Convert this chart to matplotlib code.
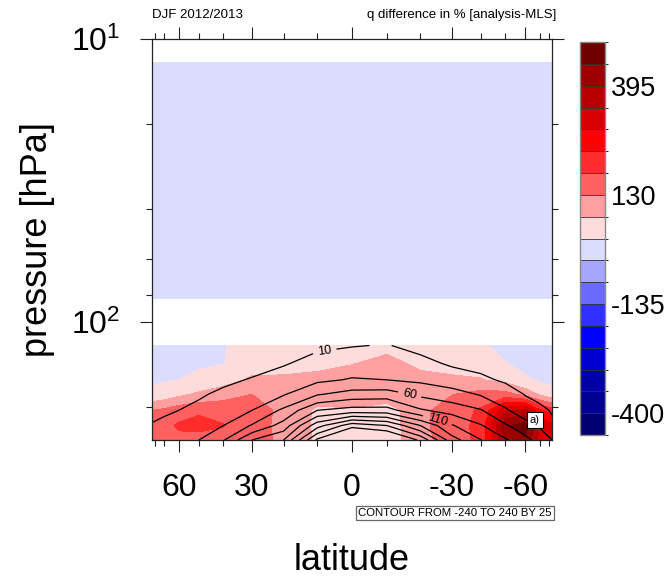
import numpy as np
import matplotlib
matplotlib.use('Agg')
import matplotlib.pyplot as plt
import matplotlib.ticker as tck
from matplotlib.colors import ListedColormap, BoundaryNorm
from matplotlib.cm import ScalarMappable

plt.rcParams['font.family'] = ['Liberation Sans', 'DejaVu Sans']
plt.rcParams['mathtext.fontset'] = 'custom'
plt.rcParams['mathtext.rm'] = 'Liberation Sans'
plt.rcParams['mathtext.it'] = 'Liberation Sans:italic'
plt.rcParams['mathtext.bf'] = 'Liberation Sans:bold'


# data
######################################################################
lats = [90, 70, 60, 50, 40, 30, 20, 10, 0, -10, -20, -30, -40, -50, -60, -70, -90]
plev = [10, 12.1, 20, 31.6, 50, 82.5, 100, 121, 140, 160, 180, 205, 232, 261]
nan = np.nan

# q difference in % (shaded)
q_010 = [nan] * 17
q_012 = [4, 4, 5, 5, 5, 4, 4, 5, 5, 5, 4, 4, 5, 5, 4, 4, 4]
q_020 = [3, 3, 4, 4, 3, 3, 4, 4, 4, 4, 3, 3, 4, 4, 3, 3, 3]
q_032 = [2, 3, 3, 3, 3, 2, 3, 3, 3, 3, 3, 2, 3, 3, 3, 2, 2]
q_050 = [2, 2, 3, 3, 2, 2, 3, 3, 4, 3, 2, 2, 3, 3, 2, 2, 2]
q_082 = [3, 3, 4, 4, 3, 3, 4, 5, 6, 5, 4, 3, 4, 4, 3, 3, 3]
q_100 = [nan] * 17
q_121 = [5, 5, 5, 8, 22, 40, 45, 50, 60, 65, 50, 45, 30, 10, 5, 5, 5]
q_140 = [10, 10, 12, 15, 22, 55, 60, 65, 75, 90, 68, 60, 55, 26, 12, 8, 6]
q_160 = [18, 20, 24, 40, 55, 85, 85, 90, 100, 110, 90, 85, 80, 60, 30, 18, 12]
q_180 = [36, 45, 65, 85, 105, 130, 110, 100, 110, 110, 110, 128, 150, 150, 110, 70, 40]
q_205 = [130, 140, 160, 175, 170, 160, 115, 69, 70, 50, 115, 160, 190, 330, 360, 240, 210]
q_232 = [155, 165, 190, 200, 185, 160, 110, 69, 60, 50, 115, 165, 195, 440, 470, 330, 300]
q_261 = [160, 160, 170, 160, 165, 150, 120, 69, 55, 50, 110, 160, 195, 400, 440, 320, 320]

# contoured field (black lines)
c_010 = [nan] * 17
c_012 = [0, 0, 0, 0, 0, 0, 0, 0, 0, 0, 0, 0, 0, 0, 0, 0, 0]
c_020 = [0, 0, 0, 0, 0, 0, 0, 0, 0, 0, 0, 0, 0, 0, 0, 0, 0]
c_032 = [0, 0, 0, 0, 0, 0, 0, 0, 0, 0, 0, 0, 0, 0, 0, 0, 0]
c_050 = [0, 0, 0, 0, 0, 0, 0, 0, 0, 0, 0, 0, 0, 0, 0, 0, 0]
c_082 = [0, 0, 0, 0, 0, 0, 0, 0, 0, 0, 0, 0, 0, 0, 0, 0, 0]
c_100 = [nan] * 17
c_121 = [-5, -5, -4, -3, -2, 0, 2, 6, 9, 11, 4, 1, -1, -3, -4, -5, -5]
c_140 = [-3, -2, -1, 0, 2, 5, 8, 18, 22, 22, 16, 7, 4, 1, -1, -2, -3]
c_160 = [0, 1, 3, 4, 7, 11, 21, 30, 37, 35, 30, 22, 14, 7, 4, 2, 0]
c_180 = [3, 4, 6, 8, 13, 20, 33, 58, 70, 72, 55, 45, 33, 21, 9, 6, 3]
c_205 = [6, 8, 10, 14, 22, 35, 65, 110, 120, 120, 88, 75, 62, 38, 22, 13, 7]
c_232 = [11, 13, 18, 24, 35, 62, 95, 175, 225, 210, 160, 112, 87, 63, 44, 32, 17]
c_261 = [20, 22, 28, 35, 58, 110, 135, 240, 300, 280, 230, 145, 111, 88, 68, 48, 35]

fill_levels = [-400, -347, -294, -241, -188, -135, -82, -29, 24, 77,
               130, 183, 236, 289, 342, 395, 448]
fill_colors = ['#000070', '#000090', '#0000a8', '#0000d0', '#0000ff', '#3030ff',
               '#6a6aff', '#a6a6ff', '#dcdcff', '#ffdcdc', '#ffa0a0', '#ff6060',
               '#ff2c2c', '#ff0000', '#d80000', '#b80000', '#9c0000', '#6e0000']
line_levels = list(range(-240, 241, 25))
labelled_levels = [10, 60, 110]
cbar_ticks = [-400, -135, 130, 395]
xticks = [60, 30, 0, -30, -60]
xticklabels = ['60', '30', '0', '-30', '-60']
######################################################################

qdiff = np.ma.masked_invalid(np.array([q_010, q_012, q_020, q_032, q_050, q_082, q_100,
                                       q_121, q_140, q_160, q_180, q_205, q_232, q_261]))
qline = np.ma.masked_invalid(np.array([c_010, c_012, c_020, c_032, c_050, c_082, c_100,
                                       c_121, c_140, c_160, c_180, c_205, c_232, c_261]))


# figure and axes set-up
######################################################################
fig = plt.figure(figsize=(6.69, 5.79), dpi=100)
ax = fig.add_axes([152/669, 1 - 440/579, 400/669, 401/579])


def fwd(x):
    return np.sin(np.deg2rad(x))


def inv(s):
    return np.rad2deg(np.arcsin(np.clip(s, -1, 1)))


# latitude axis is spaced like sin(lat)
ax.set_xscale('function', functions=(fwd, inv))
ax.set_yscale('log')
ax.set_xlim(90, -90)
ax.set_ylim(261, 10)

ax.contourf(lats, plev, qdiff, levels=fill_levels, colors=fill_colors, extend='both')
plain_levels = [lv for lv in line_levels if lv not in labelled_levels]
ax.contour(lats, plev, qline, levels=plain_levels, colors='black',
           linewidths=0.9, linestyles='solid')
cs = ax.contour(lats, plev, qline, levels=labelled_levels, colors='black',
                linewidths=0.9, linestyles='solid')
ax.clabel(cs, inline=True, fontsize=9, fmt='%d',
          manual=[(8, 123), (-16.6, 184), (-24.8, 231)])
######################################################################


# ticks
######################################################################
ax.set_xticks(xticks)
ax.set_xticklabels(xticklabels)
ax.xaxis.set_minor_locator(tck.FixedLocator([80, 70, 50, 40, 20, 10, -10, -20, -40, -50, -70, -80]))
ax.xaxis.set_minor_formatter(tck.NullFormatter())

ax.yaxis.set_major_locator(tck.FixedLocator([10, 100]))
ax.yaxis.set_major_formatter(tck.FixedFormatter([r'$\mathregular{10^1}$', r'$\mathregular{10^2}$']))
ax.yaxis.set_minor_locator(tck.FixedLocator([20, 40, 60, 80, 200]))
ax.yaxis.set_minor_formatter(tck.NullFormatter())

ax.tick_params(which='both', direction='out', top=True, right=True, width=0.8, color='#222222')
ax.tick_params(which='major', length=8.6)
ax.tick_params(which='minor', length=4.3)
ax.tick_params(axis='x', which='major', labelsize=23, pad=15)
ax.tick_params(axis='y', which='major', labelsize=23, pad=14)
for sp in ax.spines.values():
    sp.set_linewidth(0.9)
    sp.set_color('#222222')
######################################################################


# labels and annotations
######################################################################
fig.text(38/669, 1 - 239/579, 'pressure [hPa]', rotation=90, ha='center', va='center', fontsize=26)
fig.text(352/669, 1 - 561/579, 'latitude', ha='center', va='center', fontsize=26)
fig.text(152/669, 1 - 15/579, 'DJF 2012/2013', ha='left', va='center', fontsize=9.5)
fig.text(556/669, 1 - 15/579, 'q difference in % [analysis-MLS]', ha='right', va='center', fontsize=9.5)
fig.text(552/669, 1 - 513/579, 'CONTOUR FROM -240 TO 240 BY 25', ha='right', va='center', fontsize=8.2,
         bbox=dict(boxstyle='square,pad=0.2', fc='white', ec='#666666', lw=0.9))
ax.text(0.9575, 0.05, 'a)', transform=ax.transAxes, ha='center', va='center', fontsize=8,
        bbox=dict(boxstyle='square,pad=0.3', fc='white', ec='black', lw=0.8))
######################################################################


# colorbar
######################################################################
cax = fig.add_axes([580/669, 1 - 435/579, 25/669, 393/579])
bounds = [fill_levels[0] - 53] + fill_levels + [fill_levels[-1] + 53]
cmap = ListedColormap(fill_colors)
norm = BoundaryNorm(bounds, len(fill_colors))
cb = fig.colorbar(ScalarMappable(norm=norm, cmap=cmap), cax=cax, ticks=cbar_ticks, drawedges=True)
cb.dividers.set_color('#333333')
cb.dividers.set_linewidth(0.6)
cb.outline.set_edgecolor('#888888')
cb.outline.set_linewidth(1.0)
cb.ax.tick_params(length=0, labelsize=19.5, pad=4)
cb.ax.set_yticklabels([str(t) for t in cbar_ticks])
######################################################################

fig.savefig('out.png', dpi=100)
